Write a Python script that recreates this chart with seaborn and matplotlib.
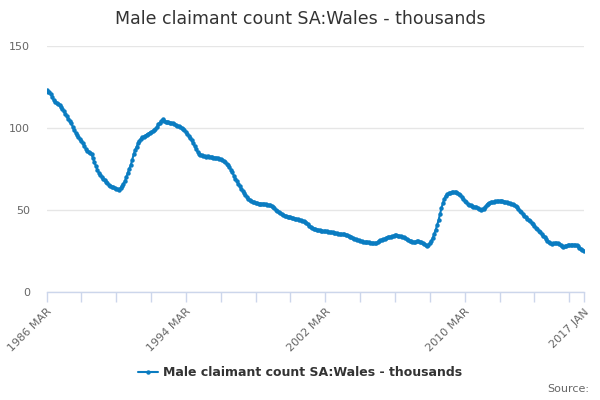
import numpy as np
import pandas as pd
import matplotlib
matplotlib.use('Agg')
import matplotlib.pyplot as plt
import seaborn as sns

# Monthly values, thousands, starting 1986 MAR
y1986 = [123.0, 122.2, 121.8, 120.9, 119.2, 116.8, 116.1, 115.5, 114.6, 113.8]
y1987 = [112.9, 111.6, 110.2, 108.8, 107.1, 105.6, 104.4, 103.2, 100.9, 98.8, 97.1, 95.8]
y1988 = [94.6, 93.5, 91.9, 90.6, 89.1, 87.4, 86.0, 85.3, 84.9, 84.0, 81.6, 79.3]
y1989 = [76.8, 74.6, 72.8, 71.5, 70.4, 69.2, 68.1, 67.0, 66.2, 65.5, 64.8, 64.3]
y1990 = [63.8, 63.6, 63.1, 62.8, 62.5, 63.4, 64.6, 66.0, 67.6, 70.1, 72.6, 75.2]
y1991 = [77.3, 80.4, 83.9, 86.4, 88.4, 90.6, 92.3, 93.5, 94.3, 94.8, 95.4, 96.0]
y1992 = [96.5, 97.1, 97.6, 98.0, 98.5, 99.3, 100.8, 102.2, 103.0, 104.1, 105.4, 104.3]
y1993 = [103.8, 103.5, 103.4, 103.2, 103.0, 102.8, 102.4, 102.0, 101.5, 101.0, 100.5, 99.9]
y1994 = [99.3, 98.6, 97.5, 96.3, 95.2, 94.0, 92.4, 90.8, 89.0, 87.1, 85.4, 84.4]
y1995 = [83.8, 83.3, 82.9, 82.7, 82.6, 83.1, 82.5, 82.3, 82.4, 81.9, 82.0, 81.7]
y1996 = [81.9, 81.4, 80.9, 80.4, 79.7, 79.0, 78.3, 77.4, 76.3, 74.6, 72.9, 71.0]
y1997 = [69.1, 67.7, 66.0, 64.4, 63.0, 61.8, 60.4, 59.2, 58.0, 57.0, 56.1, 55.4]
y1998 = [54.9, 54.6, 54.3, 54.0, 53.9, 53.8, 53.7, 53.9, 53.6, 53.5, 53.3, 53.0]
y1999 = [52.8, 52.4, 52.0, 51.2, 50.2, 49.5, 48.8, 48.0, 47.5, 47.0, 46.6, 46.2]
y2000 = [46.0, 45.8, 45.5, 45.3, 45.0, 44.8, 44.6, 44.3, 44.0, 43.7, 43.4, 43.1]
y2001 = [42.8, 42.2, 41.3, 40.3, 39.6, 39.1, 38.7, 38.4, 38.1, 37.8, 37.6, 37.4]
y2002 = [37.2, 37.1, 36.9, 37.0, 36.8, 36.7, 36.4, 36.3, 36.1, 35.9, 35.8, 35.6]
y2003 = [35.5, 35.4, 35.3, 35.1, 34.9, 34.6, 34.2, 33.7, 33.3, 32.9, 32.6, 32.2]
y2004 = [31.9, 31.6, 31.2, 30.9, 30.6, 30.4, 30.3, 30.2, 30.2, 30.1, 30.0, 29.9]
y2005 = [29.9, 29.8, 30.2, 30.9, 31.6, 32.0, 32.3, 32.5, 33.2, 33.6, 33.5, 33.8]
y2006 = [34.0, 34.3, 34.6, 34.7, 34.4, 34.2, 33.9, 33.6, 33.3, 32.8, 32.3, 31.8]
y2007 = [31.4, 31.0, 30.7, 30.5, 30.6, 30.8, 30.9, 30.7, 30.3, 29.8, 29.4, 28.8]
y2008 = [28.3, 28.9, 29.8, 31.0, 33.0, 35.4, 37.9, 40.7, 43.9, 47.6, 51.2, 54.3]
y2009 = [56.9, 58.7, 59.6, 60.1, 60.5, 60.8, 60.9, 61.0, 60.7, 60.4, 59.9, 59.1]
y2010 = [58.0, 56.9, 55.6, 54.6, 53.7, 53.2, 52.8, 52.4, 52.1, 51.9, 51.6, 51.3]
y2011 = [50.7, 50.3, 50.4, 50.9, 51.8, 53.0, 53.9, 54.5, 54.7, 54.8, 55.0, 55.2]
y2012 = [55.3, 55.5, 55.6, 55.5, 55.3, 55.1, 54.9, 54.7, 54.5, 54.2, 53.8, 53.4]
y2013 = [53.1, 52.4, 51.6, 50.6, 49.6, 48.6, 47.6, 46.6, 45.7, 44.8, 43.9, 43.1]
y2014 = [42.2, 41.3, 40.3, 39.3, 38.2, 37.2, 36.3, 35.3, 34.4, 33.3, 32.3, 31.2]
y2015 = [30.3, 29.6, 29.5, 29.6, 29.8, 29.9, 29.8, 29.4, 28.6, 27.8, 27.6, 27.9]
y2016 = [28.3, 28.6, 28.8, 28.7, 28.9, 28.8, 28.7, 28.6, 27.9, 27.1, 26.4, 25.6]
y2017 = [24.9]

years = [y1986, y1987, y1988, y1989, y1990, y1991, y1992, y1993, y1994, y1995,
         y1996, y1997, y1998, y1999, y2000, y2001, y2002, y2003, y2004, y2005,
         y2006, y2007, y2008, y2009, y2010, y2011, y2012, y2013, y2014, y2015,
         y2016, y2017]
values = [v for yr in years for v in yr]

months = ['JAN', 'FEB', 'MAR', 'APR', 'MAY', 'JUN', 'JUL', 'AUG', 'SEP', 'OCT', 'NOV', 'DEC']
labels = []
for k in range(len(values)):
    m = 2 + k
    labels.append(f"{1986 + m // 12} {months[m % 12]}")

series_name = 'Male claimant count SA:Wales - thousands'
df = pd.DataFrame({'pos': np.arange(len(values)), 'value': values, 'label': labels})

sns.set_style('white')
plt.rcParams['font.family'] = ['DejaVu Sans']

fig = plt.figure(figsize=(6, 4), dpi=100)
ax = fig.add_axes([0.0775, 0.27, 0.8955, 0.615])

color = '#0a7cc1'
sns.lineplot(data=df, x='pos', y='value', ax=ax, color=color, linewidth=1.5,
             marker='o', markersize=3.2, markeredgewidth=0, label=series_name,
             legend=False)

ax.set_xlim(0, len(values) - 1)
ax.set_ylim(0, 150)
ax.set_yticks([0, 50, 100, 150])
ax.yaxis.grid(True, color='#e6e6e6', linewidth=1)
ax.set_axisbelow(True)

tick_pos = list(range(0, len(values), 24)) + [len(values) - 1]
tick_lab = [labels[p] if (p % 96 == 0 or p == len(values) - 1) else '' for p in tick_pos]
ax.set_xticks(tick_pos)
ax.set_xticklabels(tick_lab, rotation=45, ha='right', rotation_mode='anchor')

for s in ['top', 'right', 'left']:
    ax.spines[s].set_visible(False)
ax.spines['bottom'].set_color('#ccd6eb')
ax.spines['bottom'].set_linewidth(1)

ax.tick_params(axis='x', length=7.5, width=1, color='#ccd6eb', colors='#666666',
               labelsize=8, pad=3, direction='out', bottom=True)
ax.tick_params(axis='x', color='#ccd6eb')
ax.tick_params(axis='y', length=0, labelsize=8, colors='#666666', pad=12)
ax.set_xlabel('')
ax.set_ylabel('')

fig.suptitle(series_name, x=0.5, y=0.975, fontsize=12.5, color='#333333')

handles, _ = ax.get_legend_handles_labels()
leg = fig.legend(handles, [series_name], loc='center', bbox_to_anchor=(0.5, 0.068),
                 frameon=False, fontsize=9, handlelength=1.6, handletextpad=0.4)
for t in leg.get_texts():
    t.set_fontweight('bold')
    t.set_color('#333333')

fig.text(0.982, 0.028, 'Source:', ha='right', va='center', fontsize=8, color='#666666')

fig.savefig('out.png', dpi=100)
